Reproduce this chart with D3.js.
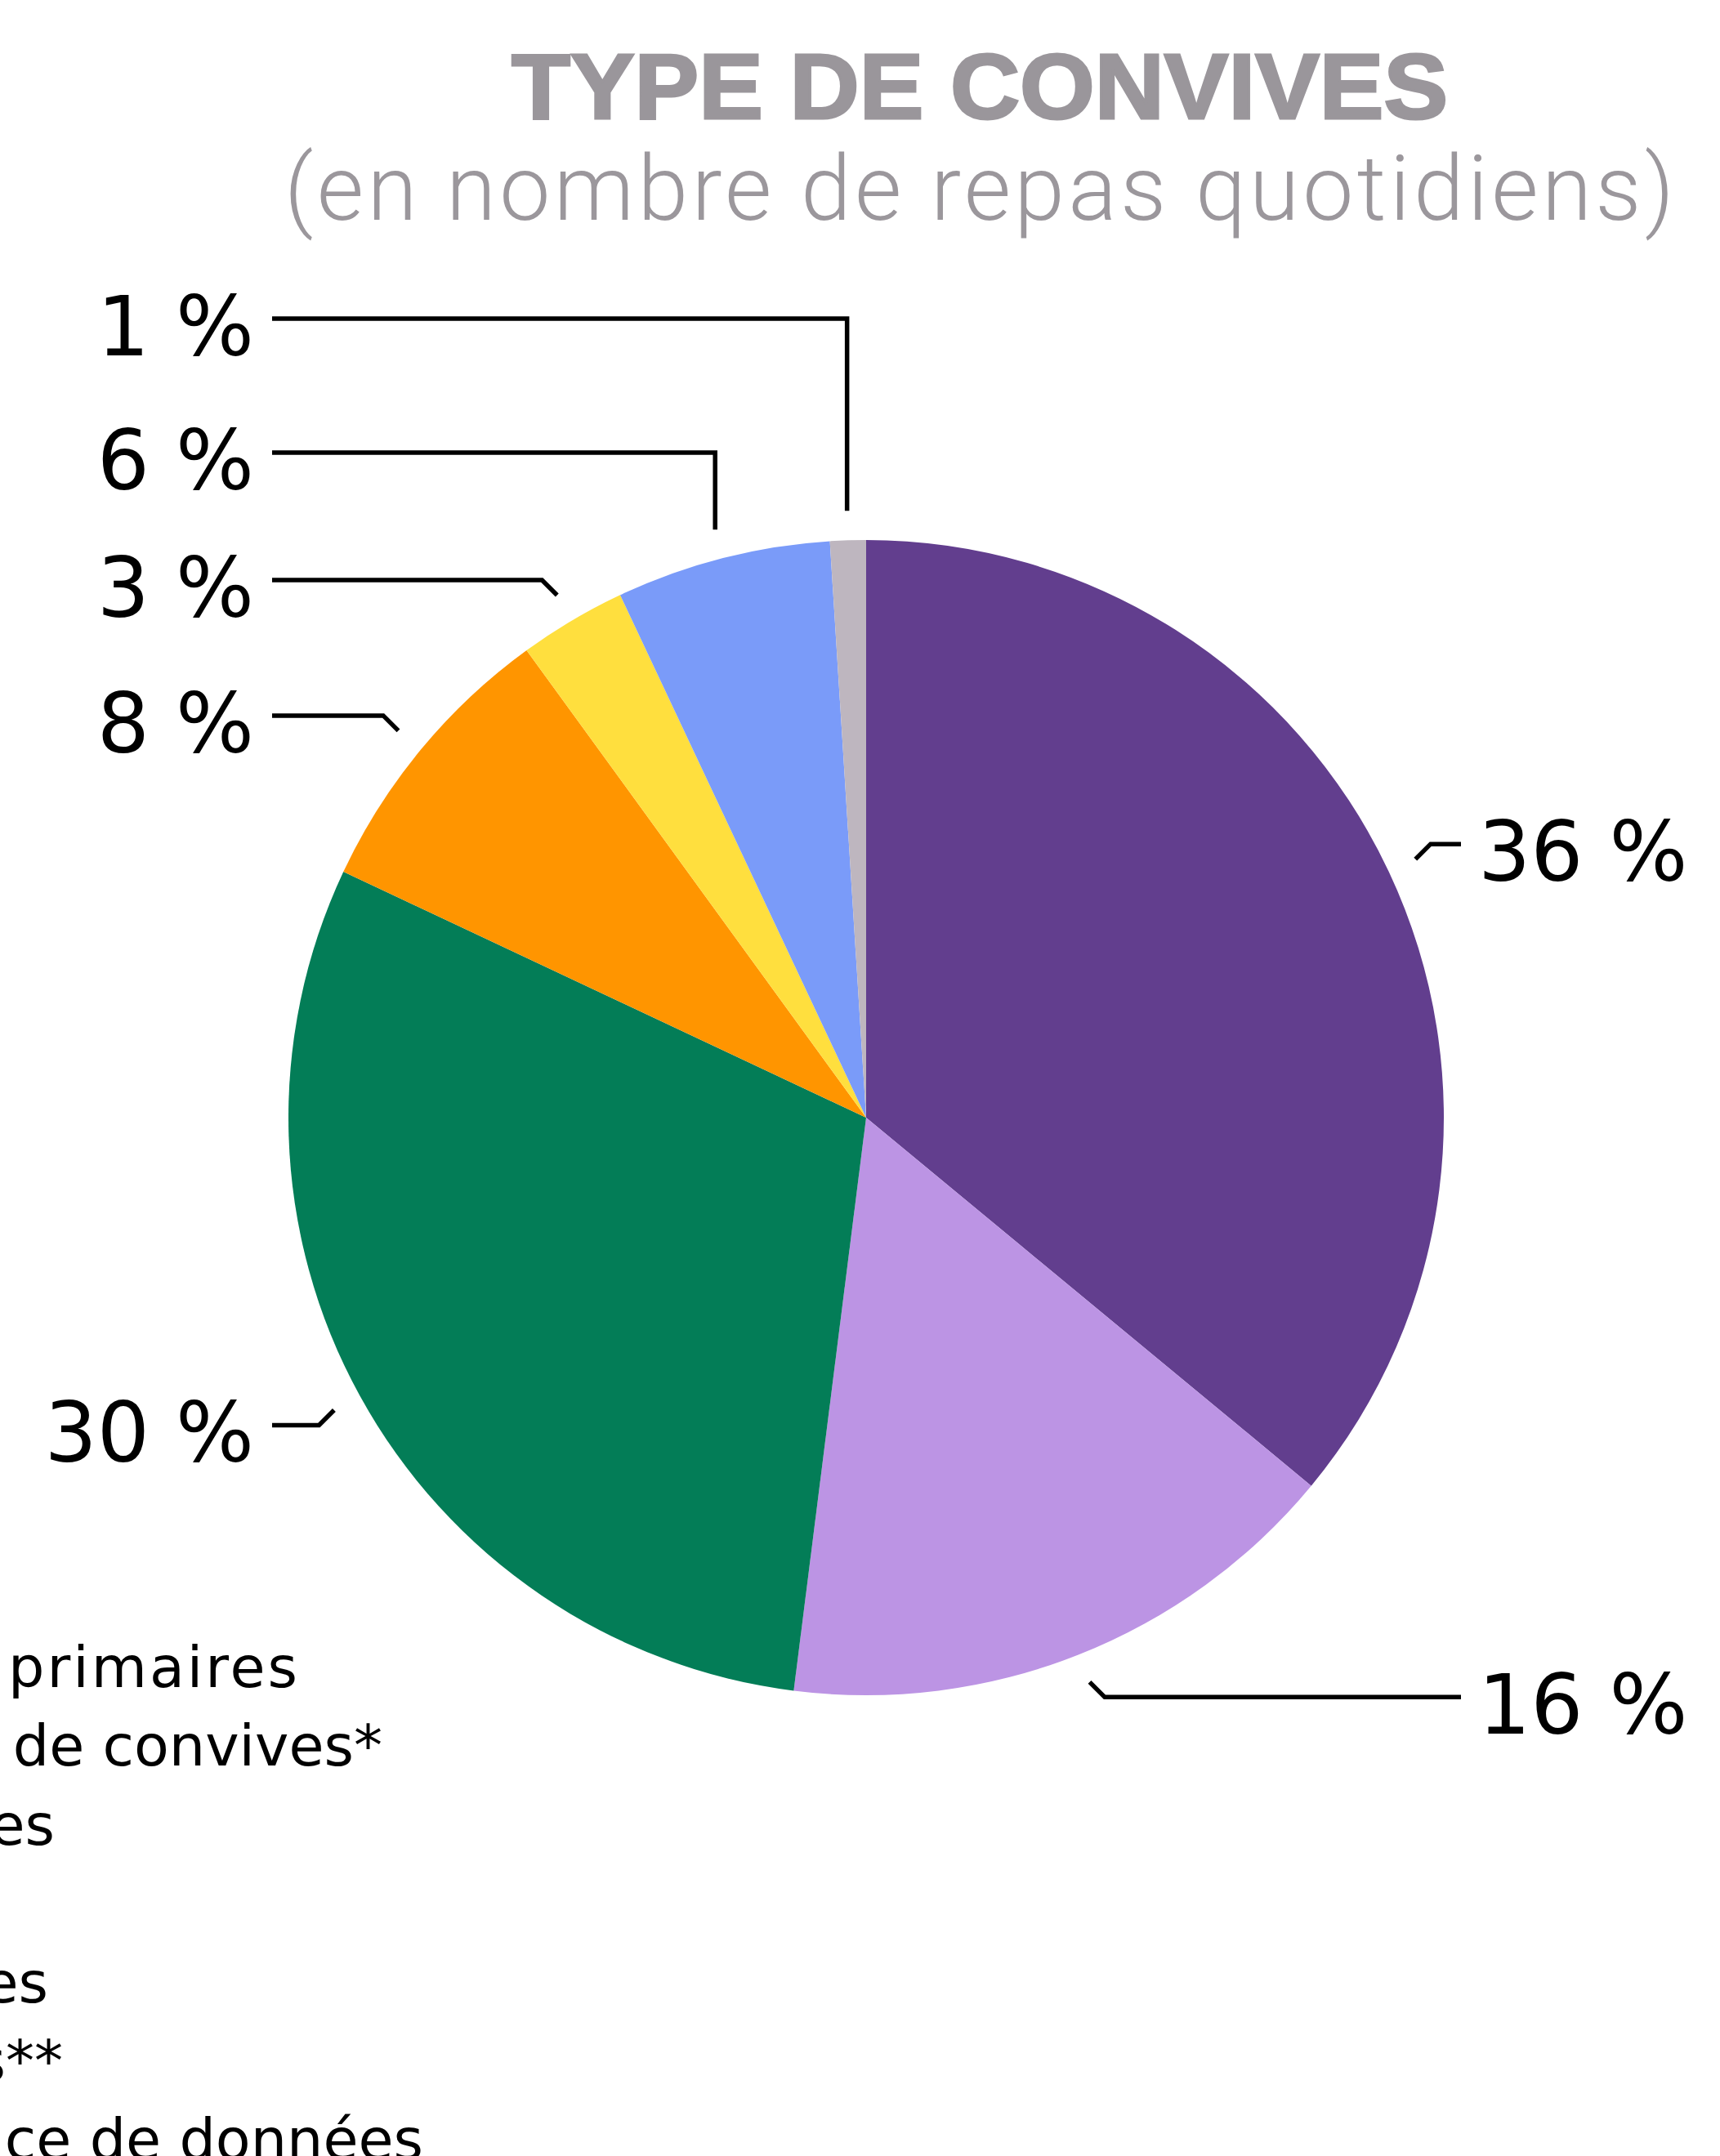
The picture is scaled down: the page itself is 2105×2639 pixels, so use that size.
<!DOCTYPE html>
<html>
<head>
<meta charset="utf-8">
<script src="https://cdn.jsdelivr.net/npm/d3@7"></script>
<style>
  html, body { margin: 0; padding: 0; background: #fff; overflow: hidden; }
</style>
</head>
<body>
<svg id="chart" width="2105" height="2639"></svg>
<script>
// Share of daily meals by type of guest (slice order, clockwise from 12 o'clock)
const categories = [
  "Élèves des écoles primaires",
  "Autres types de convives*",
  "Personnes âgées",
  "Étudiants",
  "Salariés des entreprises",
  "Agents des administrations**",
  "Absence de données"
];
const values = [36, 16, 30, 8, 3, 6, 1];
const valueLabels = ["36 %", "16 %", "30 %", "8 %", "3 %", "6 %", "1 %"];
const colors = ["#623E8E", "#BC94E4", "#037D57", "#FF9500", "#FFDF3E", "#7A9BF9", "#BEB6BF"];

const title = "TYPE DE CONVIVES";
const subtitle = "(en nombre de repas quotidiens)";

// Layout
const W = 2105, H = 2639;
const cx = 1060, cy = 1368, R = 707;
const leaderR = 743, elbow = 18.5;
const leftLineX = 333, rightLineX = 1788;
const leftTextX = 311, rightTextX = 1809;

// How each label's leader is routed
const leaderLayout = [
  { side: "right", route: "diag" },
  { side: "right", route: "diag" },
  { side: "left",  route: "diag" },
  { side: "left",  route: "diag" },
  { side: "left",  route: "diag" },
  { side: "left",  route: "vert", y: 554 },
  { side: "left",  route: "vert", y: 390 }
];

// Legend lines run off the left edge; right ends of each line
const legendEndX = [367, 468, 67, -40, 59, 77, 518];
const legendSpacing = [3, 0, 0, 0, 0, 0, 0];
const legendTop = 2065, legendStep = 96.4;

const svg = d3.select("#chart");

// Titles
svg.append("text")
  .attr("x", 626).attr("y", 145)
  .attr("textLength", 1146).attr("lengthAdjust", "spacingAndGlyphs")
  .style("font-family", "'Liberation Sans', Arial, sans-serif")
  .style("font-weight", 700)
  .style("font-size", "113px")
  .attr("fill", "#9A969B")
  .attr("stroke", "#9A969B").attr("stroke-width", 3)
  .text(title);

svg.append("text")
  .attr("x", 348).attr("y", 269)
  .attr("textLength", 1701).attr("lengthAdjust", "spacing")
  .style("font-family", "Roboto, 'Liberation Sans', sans-serif")
  .style("font-weight", 300)
  .style("font-size", "111px")
  .attr("fill", "#9B979C")
  .text(subtitle);

// Pie
const pie = d3.pie().sort(null).value(d => d);
const arcs = pie(values);
const arc = d3.arc().innerRadius(0).outerRadius(R);
const leaderArc = d3.arc().innerRadius(leaderR).outerRadius(leaderR);

const g = svg.append("g").attr("transform", `translate(${cx},${cy})`);
g.selectAll("path.slice")
  .data(arcs)
  .join("path")
  .attr("class", "slice")
  .attr("d", arc)
  .attr("fill", (d, i) => colors[i]);

// Leaders and value labels
const labelG = svg.append("g");
arcs.forEach((d, i) => {
  const [lx, ly] = leaderArc.centroid(d);
  const sx = cx + lx, sy = cy + ly;
  const lay = leaderLayout[i];
  const endX = lay.side === "left" ? leftLineX : rightLineX;
  let pts, lineY;
  if (lay.route === "diag") {
    const ex = sx + elbow * Math.sign(lx);
    const ey = sy + elbow * Math.sign(ly);
    lineY = ey;
    pts = [[sx, sy], [ex, ey], [endX, ey]];
  } else {
    lineY = lay.y;
    pts = [[sx, sy], [sx, lineY], [endX, lineY]];
  }
  labelG.append("path")
    .attr("d", d3.line()(pts))
    .attr("fill", "none")
    .attr("stroke", "#000")
    .attr("stroke-width", 5.5)
    .attr("stroke-linejoin", "miter");

  labelG.append("text")
    .attr("x", lay.side === "left" ? leftTextX : rightTextX)
    .attr("y", lineY + 45)
    .attr("text-anchor", lay.side === "left" ? "end" : "start")
    .style("font-family", "'DejaVu Sans', sans-serif")
    .style("font-size", "101px")
    .attr("fill", "#000")
    .text(valueLabels[i]);
});

// Legend
const legendG = svg.append("g");
categories.forEach((c, i) => {
  legendG.append("text")
    .attr("x", legendEndX[i])
    .attr("y", legendTop + i * legendStep)
    .attr("text-anchor", "end")
    .style("font-family", "'DejaVu Sans', sans-serif")
    .style("font-size", "70px")
    .style("letter-spacing", legendSpacing[i] + "px")
    .attr("fill", "#000")
    .text(c);
});
</script>
</body>
</html>
